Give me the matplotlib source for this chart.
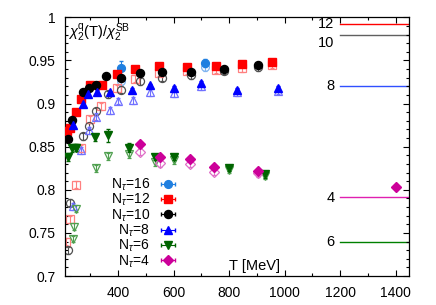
import numpy as np
import matplotlib
matplotlib.use("Agg")
import matplotlib.pyplot as plt

plt.rcParams['font.family'] = ['Liberation Sans', 'DejaVu Sans']
plt.rcParams['mathtext.fontset'] = 'custom'
plt.rcParams['mathtext.rm'] = 'Liberation Sans'
plt.rcParams['mathtext.it'] = 'Liberation Sans:italic'
plt.rcParams['mathtext.bf'] = 'Liberation Sans:bold'

# ---- data: filled symbols ----
T16 = [410, 715]
y16 = [0.941, 0.947]
e16 = [0.008, 0.005]
T12 = [215, 227, 249, 268, 299, 341, 397, 462, 548, 650, 753, 848, 953]
y12 = [0.868, 0.872, 0.890, 0.905, 0.921, 0.922, 0.934, 0.940, 0.944, 0.943, 0.944, 0.946, 0.948]
T10 = [218, 235, 274, 295, 322, 358, 412, 479, 557, 662, 782, 903]
y10 = [0.859, 0.881, 0.914, 0.918, 0.921, 0.932, 0.930, 0.936, 0.937, 0.937, 0.940, 0.945]
T8 = [237, 272, 293, 325, 371, 451, 516, 600, 698, 827, 978]
y8 = [0.875, 0.900, 0.911, 0.914, 0.913, 0.916, 0.921, 0.918, 0.924, 0.916, 0.918]
T6 = [221, 235, 248, 318, 362, 441, 532, 600, 799, 929]
y6 = [0.838, 0.848, 0.849, 0.861, 0.863, 0.849, 0.838, 0.838, 0.825, 0.818]
e6 = [0.005, 0.004, 0.004, 0.004, 0.007, 0.005, 0.003, 0.003, 0.003, 0.004]
T4 = [478, 550, 660, 744, 903, 1401]
y4 = [0.853, 0.838, 0.836, 0.826, 0.822, 0.803]

# ---- data: open symbols ----
T16o = [410, 715]
y16o = [0.926, 0.942]
T12o = [212, 227, 247, 268, 299, 340, 396, 460, 548, 650, 753, 848, 953]
y12o = [0.740, 0.766, 0.806, 0.848, 0.882, 0.897, 0.918, 0.929, 0.936, 0.938, 0.939, 0.941, 0.945]
T10o = [218, 228, 274, 296, 322, 362, 410, 478, 557, 662, 782, 903]
y10o = [0.730, 0.785, 0.862, 0.874, 0.891, 0.911, 0.916, 0.926, 0.930, 0.933, 0.938, 0.942]
T8o = [237, 268, 296, 322, 370, 401, 452, 516, 600, 698, 827, 978]
y8o = [0.781, 0.846, 0.869, 0.885, 0.892, 0.903, 0.904, 0.913, 0.912, 0.920, 0.913, 0.915]
T6o = [236, 241, 247, 250, 320, 362, 440, 532, 600, 799, 929]
y6o = [0.743, 0.757, 0.778, 0.849, 0.825, 0.839, 0.841, 0.832, 0.834, 0.823, 0.816]
T4o = [478, 550, 660, 744, 903]
y4o = [0.844, 0.831, 0.830, 0.821, 0.819]

# ---- Stefan-Boltzmann limits on finite lattices ----
sb_labels = ['12', '10', '8', '4', '6']
sb_values = [0.992, 0.979, 0.920, 0.792, 0.739]
sb_label_y = [0.992, 0.9705, 0.920, 0.790, 0.739]
sb_colors = ['#ff0000', '#606060', '#3050ff', '#e020b0', '#008000']

legend_labels = [r'N$_\tau$=16', r'N$_\tau$=12', r'N$_\tau$=10',
                 r'N$_\tau$=8', r'N$_\tau$=6', r'N$_\tau$=4']

fig = plt.figure(figsize=(4.36, 3.05), dpi=100)
ax = fig.add_axes([0.150, 0.095, 0.789, 0.848])

series = [
    (T16, y16, T16o, y16o, '#1f7fe0', '#80b4f0', 'o', 5.6),
    (T12, y12, T12o, y12o, '#ff0000', '#ff8080', 's', 5.4),
    (T10, y10, T10o, y10o, '#000000', '#505050', 'o', 5.8),
    (T8, y8, T8o, y8o, '#0000ff', '#7070ff', '^', 6.0),
    (T6, y6, T6o, y6o, '#006400', '#50a050', 'v', 6.0),
    (T4, y4, T4o, y4o, '#cc0099', '#e070c8', 'D', 4.6),
]

for i, (Tf, yf, To, yo, cf, co, mk, ms) in enumerate(series):
    yerr_o = [0.004] * len(To)
    ax.errorbar(To, yo, yerr=yerr_o, fmt=mk, ms=ms, mfc='none', mec=co,
                mew=0.9, ecolor=co, elinewidth=0.8, capsize=1.5, zorder=2)

handles = []
for i, (Tf, yf, To, yo, cf, co, mk, ms) in enumerate(series):
    if i == 0:
        ye = e16
    elif i == 4:
        ye = e6
    else:
        ye = [0.002] * len(Tf)
    ax.errorbar(Tf, yf, yerr=ye, fmt=mk, ms=ms, color=cf, mec=cf,
                ecolor=cf, elinewidth=0.8, capsize=1.5, zorder=3)
    h = ax.errorbar([np.nan], [np.nan], xerr=[1], fmt=mk, ms=ms, color=cf,
                    ecolor=cf, elinewidth=0.8, capsize=1.5)
    handles.append(h)

for lab, val, ly, c in zip(sb_labels, sb_values, sb_label_y, sb_colors):
    ax.plot([1200, 1450], [val, val], color=c, lw=1.0, zorder=1)
    ax.text(1180, ly, lab, ha='right', va='center', fontsize=10.5)

ax.set_xlim(210, 1450)
ax.set_ylim(0.7, 1.0)
ax.set_xticks([400, 600, 800, 1000, 1200, 1400])
ax.set_xticks(np.arange(300, 1450, 100), minor=True)
ax.set_yticks([0.7, 0.75, 0.8, 0.85, 0.9, 0.95, 1.0])
ax.set_yticklabels(['0.7', '0.75', '0.8', '0.85', '0.9', '0.95', '1'])
ax.set_yticks(np.arange(0.71, 1.0, 0.01), minor=True)
ax.tick_params(which='both', direction='in', top=True, right=True,
               labelsize=10, width=0.8)
ax.tick_params(which='major', length=4, pad=7)
ax.tick_params(which='minor', length=2)
for s in ax.spines.values():
    s.set_linewidth(0.9)

ax.text(0.008, 0.985, r'$\chi_2^{\rm q}({\rm T})/\chi_2^{\rm SB}$',
        transform=ax.transAxes, ha='left', va='top', fontsize=10.5)
ax.text(0.549, 0.012, 'T [MeV]', transform=ax.transAxes, ha='center',
        va='bottom', fontsize=10.5)

leg = ax.legend(handles, legend_labels, loc='lower right',
                bbox_to_anchor=(0.33, 0.025), markerfirst=False, frameon=False,
                fontsize=10, borderpad=0, labelspacing=-0.08, handlelength=1.6,
                handletextpad=0.5, borderaxespad=0)

fig.savefig('out.png', dpi=100)
